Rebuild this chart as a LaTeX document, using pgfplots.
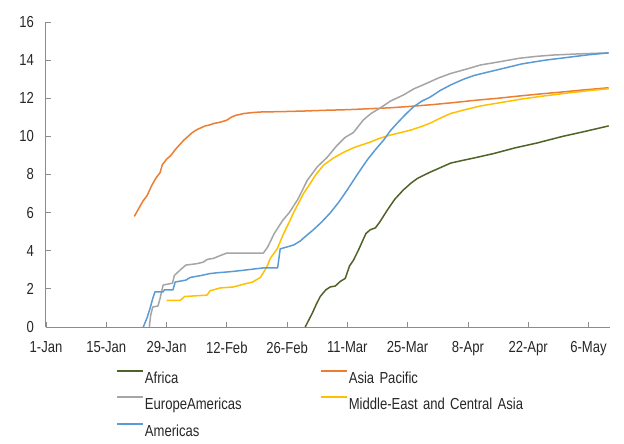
\documentclass[border=0pt]{standalone}
\usepackage{pgfplots}
\pgfplotsset{compat=1.18}
\usepackage{fontspec}
\setmainfont{Liberation Sans}[FakeStretch=0.82]
\definecolor{cAfrica}{HTML}{4F6228}
\definecolor{cAsia}{HTML}{ED7D31}
\definecolor{cEurope}{HTML}{A5A5A5}
\definecolor{cMiddle}{HTML}{FFC000}
\definecolor{cAmericas}{HTML}{5B9BD5}
\definecolor{cAxis}{HTML}{8C8C8C}
\begin{document}
\begin{tikzpicture}
\begin{axis}[
  name=ax,
  scale only axis, width=564bp, height=305bp,
  xmin=0, xmax=131, ymin=0, ymax=16,
  axis lines=left,
  axis line style={draw=cAxis, line width=1bp, -},
  xtick={0,14,...,126},
  xticklabels={1-Jan,15-Jan,29-Jan,12-Feb,26-Feb,11-Mar,25-Mar,8-Apr,22-Apr,6-May},
  ytick={0,2,...,16},
  tick align=inside, major tick length=5bp,
  tick style={draw=cAxis, line width=0.8bp},
  tick label style={font=\fontsize{16}{18}\selectfont, text=black!85},
  yticklabel style={xshift=-8.5bp},
  xticklabel style={yshift=-11bp},
  /pgf/number format/assume math mode=true,
  legend columns=2,
  legend cell align=left,
  legend style={at={(0.1241,-0.1405)}, anchor=north west, draw=none, fill=none,
    inner sep=0pt, column sep=0pt, row sep=8bp,
    font=\fontsize{16}{18}\selectfont, text=black!85,
    nodes={inner sep=1bp, text width=174bp, text height=12bp, text depth=4bp}},
  legend image code/.code={\draw[#1, line width=1.8bp] (0bp,8.5bp) -- (26bp,8.5bp);},
  every axis plot/.append style={line width=1.5bp, line join=round},
]
\addplot[cAfrica] coordinates {
(60.2,0) (61,0.35) (61.8,0.7) (62.8,1.2) (63.7,1.6) (65,1.95) (66,2.1) (67.2,2.15)
(68.4,2.4) (69.5,2.55) (70.5,3.2) (71.4,3.5) (72.5,4.0) (73.5,4.5) (74.3,4.9) (75.3,5.1)
(76.5,5.2) (77.5,5.5) (79.3,6.14) (81,6.7) (83,7.19) (84.8,7.55) (86.3,7.8) (89,8.1)
(91.5,8.35) (94,8.6) (97,8.75) (99.5,8.87) (104,9.1) (109,9.4) (114,9.65) (120,10.0)
(125,10.25) (130.7,10.55)};
\addlegendentry{Africa}
\addplot[cAsia] coordinates {
(20.5,5.8) (21.5,6.2) (22.5,6.6) (23.5,6.9) (24.5,7.4) (25.5,7.8) (26.5,8.1) (27,8.5)
(28,8.8) (29,9.0) (30,9.3) (31,9.55) (32,9.8) (33,10.0) (34,10.2) (35,10.35) (36,10.45)
(37,10.55) (38,10.6) (39,10.68) (40,10.72) (41,10.78) (42,10.85) (43,11.0) (44,11.1)
(45,11.15) (46,11.2) (48,11.25) (50,11.28) (55,11.3) (60,11.33) (65,11.37) (70,11.4)
(75,11.45) (80,11.5) (85,11.58) (90,11.67) (95,11.78) (100,11.9) (105,12.0) (110,12.12)
(115,12.23) (120,12.33) (125,12.44) (130.7,12.55)};
\addlegendentry{Asia Pacific}
\addplot[cEurope] coordinates {
(24.0,0) (24.3,0.6) (24.8,1.05) (26.0,1.1) (26.5,1.5) (27.2,2.2) (29.4,2.3) (29.8,2.7)
(31.2,3.0) (32.5,3.25) (35,3.32) (36.5,3.4) (37.5,3.55) (38.9,3.6) (40.5,3.75) (42,3.88)
(50.5,3.88) (51.5,4.2) (53,4.9) (55,5.6) (56.5,6.0) (58.5,6.7) (60.7,7.7) (63,8.4)
(65.3,8.9) (67.5,9.5) (69.5,9.95) (71.4,10.2) (73.7,10.86) (75.5,11.2) (77.7,11.5)
(80,11.85) (83,12.17) (85.5,12.5) (88.6,12.8) (91,13.05) (94,13.3) (98,13.55)
(101,13.75) (105,13.9) (110,14.1) (114,14.2) (118,14.27) (124,14.33) (130.7,14.38)};
\addlegendentry{EuropeAmericas}
\addplot[cMiddle] coordinates {
(28,1.4) (31.2,1.4) (32.2,1.6) (35,1.64) (37.4,1.67) (38.1,1.9) (40.5,2.05) (43.5,2.1)
(46,2.25) (48,2.36) (49.8,2.6) (51.3,3.15) (52.1,3.6) (53.7,4.1) (55,4.8) (56.7,5.6)
(57.5,6.0) (59.8,7.0) (61,7.4) (62.6,7.97) (64.5,8.5) (66.8,8.87) (69,9.15) (71.4,9.4)
(73.3,9.55) (75.3,9.7) (77.5,9.9) (80,10.07) (82.4,10.2) (84.7,10.33) (87,10.5)
(89.3,10.7) (91.5,10.95) (94,11.2) (97,11.38) (101,11.6) (105,11.75) (110.5,11.96)
(115,12.1) (121,12.27) (126,12.4) (130.7,12.5)};
\addlegendentry{\mbox{Middle-East and Central Asia}}
\addplot[cAmericas] coordinates {
(22.6,0) (23.5,0.5) (24.2,1.0) (24.8,1.5) (25.3,1.84) (27.2,1.84) (27.5,1.95) (29.5,1.95)
(30,2.36) (32.5,2.46) (33.5,2.6) (36,2.7) (38,2.8) (40,2.85) (42.8,2.9) (46,2.98)
(50.5,3.1) (53.8,3.1) (54.4,4.1) (56,4.2) (57.5,4.3) (59,4.5) (60.5,4.8) (62.1,5.1)
(64,5.5) (66,5.98) (68,6.55) (70,7.2) (72.3,8.0) (74.6,8.76) (76.5,9.3) (78.4,9.8)
(80,10.3) (81.6,10.7) (83.5,11.15) (85.3,11.54) (87.3,11.85) (89.3,12.07) (91.5,12.4)
(94,12.7) (97,13.0) (99.5,13.2) (105,13.5) (110.5,13.8) (116,14.0) (121.4,14.15)
(126,14.28) (130.7,14.38)};
\addlegendentry{Americas}
\end{axis}
\path ([shift={(-46bp,-117bp)}]ax.south west) rectangle ([shift={(14bp,22bp)}]ax.north east);
\end{tikzpicture}
\end{document}
